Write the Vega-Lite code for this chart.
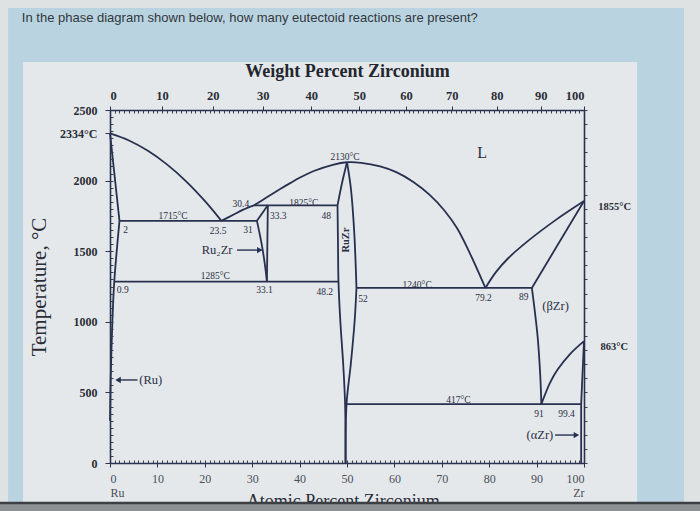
{
  "$schema": "https://vega.github.io/schema/vega-lite/v6.json",
  "width": 474,
  "height": 353,
  "autosize": {"type": "none"},
  "padding": {"left": 110, "top": 110, "right": 116, "bottom": 48},
  "background": "#dfe2e2",
  "config": {"view": {"stroke": null}, "font": "Liberation Serif"},
  "resolve": {"axis": {"x": "independent", "y": "independent"}},
  "datasets": {
    "frame": [
      {"part": "screen", "x": -21.5, "x2": 121.1, "T": 3222, "T2": -283},
      {"part": "panel", "x": -18.35, "x2": 111.2, "T": 2840, "T2": -283},
      {"part": "band", "x": -30, "x2": 130, "T": -283, "T2": -450}
    ],
    "lines": [
      {"s": "liqRu", "i": 1, "x": 0, "T": 2334}, {"s": "liqRu", "i": 2, "x": 4, "T": 2284}, {"s": "liqRu", "i": 3, "x": 8, "T": 2211}, {"s": "liqRu", "i": 4, "x": 12, "T": 2115}, {"s": "liqRu", "i": 5, "x": 16, "T": 1997}, {"s": "liqRu", "i": 6, "x": 20, "T": 1856}, {"s": "liqRu", "i": 7, "x": 23.5, "T": 1715},
      {"s": "solRu", "i": 1, "x": 0, "T": 2334}, {"s": "solRu", "i": 2, "x": 2, "T": 1715},
      {"s": "solvRu", "i": 1, "x": 2, "T": 1715}, {"s": "solvRu", "i": 2, "x": 0.9, "T": 1285}, {"s": "solvRu", "i": 3, "x": 0.5, "T": 1000}, {"s": "solvRu", "i": 4, "x": 0.15, "T": 600}, {"s": "solvRu", "i": 5, "x": 0, "T": 300},
      {"s": "eut1715", "i": 1, "x": 2, "T": 1715}, {"s": "eut1715", "i": 2, "x": 31, "T": 1715},
      {"s": "liqA", "i": 1, "x": 23.5, "T": 1715}, {"s": "liqA", "i": 2, "x": 26, "T": 1758}, {"s": "liqA", "i": 3, "x": 28, "T": 1793}, {"s": "liqA", "i": 4, "x": 30.4, "T": 1825},
      {"s": "liqB", "i": 1, "x": 30.4, "T": 1825}, {"s": "liqB", "i": 2, "x": 33, "T": 1880}, {"s": "liqB", "i": 3, "x": 35.9, "T": 1940}, {"s": "liqB", "i": 4, "x": 38, "T": 1982}, {"s": "liqB", "i": 5, "x": 40.1, "T": 2022}, {"s": "liqB", "i": 6, "x": 43, "T": 2068}, {"s": "liqB", "i": 7, "x": 47, "T": 2112}, {"s": "liqB", "i": 8, "x": 50, "T": 2130}, {"s": "liqB", "i": 9, "x": 53, "T": 2126}, {"s": "liqB", "i": 10, "x": 57, "T": 2100}, {"s": "liqB", "i": 11, "x": 60.5, "T": 2058}, {"s": "liqB", "i": 12, "x": 64, "T": 1990}, {"s": "liqB", "i": 13, "x": 67.5, "T": 1897}, {"s": "liqB", "i": 14, "x": 70.5, "T": 1790}, {"s": "liqB", "i": 15, "x": 73.2, "T": 1664}, {"s": "liqB", "i": 16, "x": 76, "T": 1480}, {"s": "liqB", "i": 17, "x": 79.2, "T": 1240},
      {"s": "per1825", "i": 1, "x": 30.4, "T": 1825}, {"s": "per1825", "i": 2, "x": 48, "T": 1825},
      {"s": "r2zTop", "i": 1, "x": 33.3, "T": 1825}, {"s": "r2zTop", "i": 2, "x": 31, "T": 1715},
      {"s": "r2zLeft", "i": 1, "x": 31, "T": 1715}, {"s": "r2zLeft", "i": 2, "x": 32, "T": 1550}, {"s": "r2zLeft", "i": 3, "x": 32.7, "T": 1400}, {"s": "r2zLeft", "i": 4, "x": 33.1, "T": 1285},
      {"s": "r2zRight", "i": 1, "x": 33.3, "T": 1825}, {"s": "r2zRight", "i": 2, "x": 33.1, "T": 1285},
      {"s": "eutd1285", "i": 1, "x": 0.9, "T": 1285}, {"s": "eutd1285", "i": 2, "x": 48.2, "T": 1285},
      {"s": "rzLtop", "i": 1, "x": 50, "T": 2130}, {"s": "rzLtop", "i": 2, "x": 49, "T": 1990}, {"s": "rzLtop", "i": 3, "x": 48, "T": 1825},
      {"s": "rzL", "i": 1, "x": 48, "T": 1825}, {"s": "rzL", "i": 2, "x": 48.1, "T": 1550}, {"s": "rzL", "i": 3, "x": 48.2, "T": 1285}, {"s": "rzL", "i": 4, "x": 48.6, "T": 1000}, {"s": "rzL", "i": 5, "x": 49.2, "T": 700}, {"s": "rzL", "i": 6, "x": 49.6, "T": 417}, {"s": "rzL", "i": 7, "x": 49.7, "T": 0},
      {"s": "rzRtop", "i": 1, "x": 50, "T": 2130}, {"s": "rzRtop", "i": 2, "x": 50.8, "T": 1950}, {"s": "rzRtop", "i": 3, "x": 51.5, "T": 1650}, {"s": "rzRtop", "i": 4, "x": 52, "T": 1240},
      {"s": "rzR", "i": 1, "x": 52, "T": 1240}, {"s": "rzR", "i": 2, "x": 51.6, "T": 1000}, {"s": "rzR", "i": 3, "x": 50.8, "T": 700}, {"s": "rzR", "i": 4, "x": 49.9, "T": 417}, {"s": "rzR", "i": 5, "x": 49.7, "T": 0},
      {"s": "eut1240", "i": 1, "x": 52, "T": 1240}, {"s": "eut1240", "i": 2, "x": 89, "T": 1240},
      {"s": "liqZr", "i": 1, "x": 79.2, "T": 1240}, {"s": "liqZr", "i": 2, "x": 81.5, "T": 1355}, {"s": "liqZr", "i": 3, "x": 84, "T": 1450}, {"s": "liqZr", "i": 4, "x": 88.2, "T": 1573}, {"s": "liqZr", "i": 5, "x": 94, "T": 1720}, {"s": "liqZr", "i": 6, "x": 100, "T": 1855},
      {"s": "solZr", "i": 1, "x": 89, "T": 1240}, {"s": "solZr", "i": 2, "x": 100, "T": 1855},
      {"s": "solvBZr", "i": 1, "x": 89, "T": 1240}, {"s": "solvBZr", "i": 2, "x": 90.2, "T": 900}, {"s": "solvBZr", "i": 3, "x": 90.8, "T": 600}, {"s": "solvBZr", "i": 4, "x": 91, "T": 417},
      {"s": "eutd417", "i": 1, "x": 49.8, "T": 417}, {"s": "eutd417", "i": 2, "x": 99.4, "T": 417},
      {"s": "transBA", "i": 1, "x": 91, "T": 417}, {"s": "transBA", "i": 2, "x": 92.8, "T": 566}, {"s": "transBA", "i": 3, "x": 94.4, "T": 660}, {"s": "transBA", "i": 4, "x": 97, "T": 770}, {"s": "transBA", "i": 5, "x": 100, "T": 863},
      {"s": "aZrTop", "i": 1, "x": 100, "T": 863}, {"s": "aZrTop", "i": 2, "x": 99.4, "T": 417},
      {"s": "aZr", "i": 1, "x": 99.4, "T": 417}, {"s": "aZr", "i": 2, "x": 99.4, "T": 0}
    ],
    "labels": [
      {"text": "2130°C", "x": 49.6, "T": 2170, "kind": "num"},
      {"text": "1715°C", "x": 13.3, "T": 1752, "kind": "num"},
      {"text": "2", "x": 3.3, "T": 1650, "kind": "num"},
      {"text": "23.5", "x": 22.8, "T": 1643, "kind": "num"},
      {"text": "31", "x": 29.1, "T": 1650, "kind": "num"},
      {"text": "30.4", "x": 27.6, "T": 1836, "kind": "num"},
      {"text": "1825°C", "x": 40.9, "T": 1843, "kind": "num"},
      {"text": "33.3", "x": 35.5, "T": 1752, "kind": "num"},
      {"text": "48", "x": 45.6, "T": 1752, "kind": "num"},
      {"text": "1285°C", "x": 22.2, "T": 1326, "kind": "num"},
      {"text": "0.9", "x": 2.7, "T": 1222, "kind": "num"},
      {"text": "33.1", "x": 32.6, "T": 1222, "kind": "num"},
      {"text": "48.2", "x": 45.3, "T": 1208, "kind": "num"},
      {"text": "52", "x": 53.4, "T": 1165, "kind": "num"},
      {"text": "1240°C", "x": 64.8, "T": 1262, "kind": "num"},
      {"text": "79.2", "x": 78.8, "T": 1168, "kind": "num"},
      {"text": "89", "x": 87.3, "T": 1175, "kind": "num"},
      {"text": "417°C", "x": 73.5, "T": 448, "kind": "num"},
      {"text": "91", "x": 90.5, "T": 350, "kind": "num"},
      {"text": "99.4", "x": 96.3, "T": 350, "kind": "num"},
      {"text": "1855°C", "x": 103, "T": 1812, "kind": "side"},
      {"text": "863°C", "x": 103.5, "T": 821, "kind": "side"},
      {"text": "L", "x": 78.5, "T": 2195, "kind": "big"},
      {"text": "(βZr)", "x": 94, "T": 1115, "kind": "phase"},
      {"text": "(Ru)", "x": 8.6, "T": 588, "kind": "phase"},
      {"text": "(αZr)", "x": 90.7, "T": 198, "kind": "phase"},
      {"text": "Ru₂Zr", "x": 22.6, "T": 1508, "kind": "phase"},
      {"text": "RuZr", "x": 49.8, "T": 1579, "kind": "rot"},
      {"text": "In the phase diagram shown below, how many eutectoid reactions are present?", "x": -18.6, "T": 3151, "kind": "question"},
      {"text": "Atomic Percent Zirconium", "x": 49.2, "T": -312, "kind": "xtitle"}
    ],
    "arrows": [
      {"name": "Ru", "x": 1.5, "x2": 5.8, "T": 588, "head": 1.7, "dir": "left"},
      {"name": "Ru2Zr", "x": 26.8, "x2": 32.0, "T": 1508, "head": 31.6, "dir": "right"},
      {"name": "aZr", "x": 93.9, "x2": 98.6, "T": 198, "head": 98.4, "dir": "right"}
    ]
  },
  "layer": [
    {
      "data": {"name": "frame"},
      "transform": [{"filter": "datum.part == 'screen'"}],
      "mark": {"type": "rect", "color": "#b9d4e0"},
      "encoding": {
        "x": {"field": "x", "type": "quantitative", "scale": {"domain": [0, 100], "nice": false, "zero": false},
              "axis": {"orient": "bottom", "tickCount": 100, "labels": false, "domain": false, "grid": false, "title": null, "tickSize": -3, "tickColor": "#3a4050", "zindex": 2}},
        "x2": {"field": "x2"},
        "y": {"field": "T", "type": "quantitative", "scale": {"domain": [0, 2500], "nice": false, "zero": false},
              "axis": {"orient": "left", "tickCount": 50, "labels": false, "domain": false, "grid": false, "title": null, "tickSize": -3, "tickColor": "#3a4050", "zindex": 2}},
        "y2": {"field": "T2"}
      }
    },
    {
      "data": {"name": "frame"},
      "transform": [{"filter": "datum.part == 'panel'"}],
      "mark": {"type": "rect", "color": "#e4e8ea"},
      "encoding": {
        "x": {"field": "x", "type": "quantitative", "scale": {"domain": [0, 100], "nice": false, "zero": false},
              "axis": {"orient": "top", "tickCount": 100, "labels": false, "domain": false, "grid": false, "title": null, "tickSize": -3, "tickColor": "#3a4050", "zindex": 2}},
        "x2": {"field": "x2"},
        "y": {"field": "T", "type": "quantitative", "scale": {"domain": [0, 2500], "nice": false, "zero": false},
              "axis": {"orient": "right", "tickCount": 25, "labels": false, "domain": true, "domainColor": "#2b3350", "domainWidth": 1.6, "grid": false, "title": null, "tickSize": 3, "tickColor": "#3a4050", "zindex": 2}},
        "y2": {"field": "T2"}
      }
    },
    {
      "data": {"name": "lines"},
      "mark": {"type": "line", "color": "#283050", "strokeWidth": 1.8, "interpolate": "catmull-rom"},
      "encoding": {
        "x": {"field": "x", "type": "quantitative", "scale": {"domain": [0, 100], "nice": false, "zero": false},
              "axis": {"orient": "bottom", "values": [0, 10, 20, 30, 40, 50, 60, 70, 80, 90, 100], "labelExpr": "datum.value == 0 ? ['0', 'Ru'] : datum.value == 100 ? ['100', 'Zr'] : datum.label",
                       "labelFont": "Liberation Serif", "labelFontSize": 12, "labelColor": "#4a4f5a", "labelPadding": 6, "labelLineHeight": 14,
                       "domain": true, "domainColor": "#2b3350", "domainWidth": 1.6, "tickSize": 4, "tickColor": "#2b3350", "grid": false, "title": null, "zindex": 3}},
        "y": {"field": "T", "type": "quantitative", "scale": {"domain": [0, 2500], "nice": false, "zero": false},
              "axis": {"orient": "left", "values": [0, 500, 1000, 1500, 2000, 2334, 2500], "format": "d", "labelExpr": "datum.value == 2334 ? '2334°C' : datum.label",
                       "labelFont": "Liberation Serif", "labelFontSize": 12, "labelFontWeight": "bold", "labelColor": "#2a2d35", "labelPadding": 8,
                       "domain": true, "domainColor": "#2b3350", "domainWidth": 1.6, "tickSize": 5, "tickColor": "#2b3350", "grid": false,
                       "title": "Temperature, °C", "titleFont": "Liberation Serif", "titleFontSize": 21, "titleFontWeight": "normal", "titleColor": "#2a2d35", "titlePadding": 10, "zindex": 3}},
        "detail": {"field": "s", "type": "nominal"},
        "order": {"field": "i", "type": "quantitative"}
      }
    },
    {
      "data": {"name": "labels"},
      "transform": [{"filter": "datum.kind == 'num'"}],
      "mark": {"type": "text", "font": "Liberation Serif", "fontSize": 9.5, "color": "#2a2f45", "align": "center", "baseline": "middle"},
      "encoding": {
        "x": {"field": "x", "type": "quantitative", "scale": {"domain": [0, 100], "nice": false, "zero": false},
              "axis": {"orient": "top", "values": [0, 10.96, 21.69, 32.2, 42.48, 52.56, 62.43, 72.11, 81.59, 90.89, 100],
                       "labelExpr": "'' + round(datum.value * 91.224 * 100 / (datum.value * 91.224 + (100 - datum.value) * 101.07))",
                       "labelFont": "Liberation Serif", "labelFontSize": 12.5, "labelFontWeight": "bold", "labelColor": "#2a2d35", "labelPadding": 4,
                       "domain": true, "domainColor": "#2b3350", "domainWidth": 1.6, "tickSize": 4, "tickColor": "#2b3350", "grid": false,
                       "title": "Weight Percent Zirconium", "titleFont": "Liberation Serif", "titleFontSize": 18, "titleFontWeight": "bold", "titleColor": "#23262e", "titlePadding": 9, "zindex": 3}},
        "y": {"field": "T", "type": "quantitative", "scale": {"domain": [0, 2500], "nice": false, "zero": false}, "axis": null},
        "text": {"field": "text"}
      }
    },
    {
      "data": {"name": "labels"},
      "transform": [{"filter": "datum.kind == 'side'"}],
      "mark": {"type": "text", "font": "Liberation Serif", "fontSize": 10.5, "fontWeight": "bold", "color": "#2a2d35", "align": "left", "baseline": "middle"},
      "encoding": {
        "x": {"field": "x", "type": "quantitative", "scale": {"domain": [0, 100], "nice": false, "zero": false}, "axis": null},
        "y": {"field": "T", "type": "quantitative", "scale": {"domain": [0, 2500], "nice": false, "zero": false}, "axis": null},
        "text": {"field": "text"}
      }
    },
    {
      "data": {"name": "labels"},
      "transform": [{"filter": "datum.kind == 'phase'"}],
      "mark": {"type": "text", "font": "Liberation Serif", "fontSize": 12.5, "color": "#2a2f45", "align": "center", "baseline": "middle"},
      "encoding": {
        "x": {"field": "x", "type": "quantitative", "scale": {"domain": [0, 100], "nice": false, "zero": false}, "axis": null},
        "y": {"field": "T", "type": "quantitative", "scale": {"domain": [0, 2500], "nice": false, "zero": false}, "axis": null},
        "text": {"field": "text"}
      }
    },
    {
      "data": {"name": "labels"},
      "transform": [{"filter": "datum.kind == 'big'"}],
      "mark": {"type": "text", "font": "Liberation Serif", "fontSize": 16, "color": "#2a2f45", "align": "center", "baseline": "middle"},
      "encoding": {
        "x": {"field": "x", "type": "quantitative", "scale": {"domain": [0, 100], "nice": false, "zero": false}, "axis": null},
        "y": {"field": "T", "type": "quantitative", "scale": {"domain": [0, 2500], "nice": false, "zero": false}, "axis": null},
        "text": {"field": "text"}
      }
    },
    {
      "data": {"name": "labels"},
      "transform": [{"filter": "datum.kind == 'rot'"}],
      "mark": {"type": "text", "font": "Liberation Serif", "fontSize": 10.5, "fontWeight": "bold", "color": "#2a2f45", "align": "center", "baseline": "middle", "angle": 270},
      "encoding": {
        "x": {"field": "x", "type": "quantitative", "scale": {"domain": [0, 100], "nice": false, "zero": false}, "axis": null},
        "y": {"field": "T", "type": "quantitative", "scale": {"domain": [0, 2500], "nice": false, "zero": false}, "axis": null},
        "text": {"field": "text"}
      }
    },
    {
      "data": {"name": "arrows"},
      "mark": {"type": "rule", "color": "#283050", "strokeWidth": 1.4},
      "encoding": {
        "x": {"field": "x", "type": "quantitative", "scale": {"domain": [0, 100], "nice": false, "zero": false}, "axis": null},
        "x2": {"field": "x2"},
        "y": {"field": "T", "type": "quantitative", "scale": {"domain": [0, 2500], "nice": false, "zero": false}, "axis": null}
      }
    },
    {
      "data": {"name": "arrows"},
      "transform": [{"filter": "datum.dir == 'right'"}],
      "mark": {"type": "point", "shape": "triangle-right", "filled": true, "color": "#283050", "size": 40, "opacity": 1},
      "encoding": {
        "x": {"field": "head", "type": "quantitative", "scale": {"domain": [0, 100], "nice": false, "zero": false}, "axis": null},
        "y": {"field": "T", "type": "quantitative", "scale": {"domain": [0, 2500], "nice": false, "zero": false}, "axis": null}
      }
    },
    {
      "data": {"name": "arrows"},
      "transform": [{"filter": "datum.dir == 'left'"}],
      "mark": {"type": "point", "shape": "triangle-left", "filled": true, "color": "#283050", "size": 40, "opacity": 1},
      "encoding": {
        "x": {"field": "head", "type": "quantitative", "scale": {"domain": [0, 100], "nice": false, "zero": false}, "axis": null},
        "y": {"field": "T", "type": "quantitative", "scale": {"domain": [0, 2500], "nice": false, "zero": false}, "axis": null}
      }
    },
    {
      "data": {"name": "labels"},
      "transform": [{"filter": "datum.kind == 'question'"}],
      "mark": {"type": "text", "font": "Liberation Sans", "fontSize": 13, "color": "#33373d", "align": "left", "baseline": "middle"},
      "encoding": {
        "x": {"field": "x", "type": "quantitative", "scale": {"domain": [0, 100], "nice": false, "zero": false}, "axis": null},
        "y": {"field": "T", "type": "quantitative", "scale": {"domain": [0, 2500], "nice": false, "zero": false}, "axis": null},
        "text": {"field": "text"}
      }
    },
    {
      "data": {"name": "labels"},
      "transform": [{"filter": "datum.kind == 'xtitle'"}],
      "mark": {"type": "text", "font": "Liberation Serif", "fontSize": 18, "color": "#2a2d35", "align": "center", "baseline": "alphabetic"},
      "encoding": {
        "x": {"field": "x", "type": "quantitative", "scale": {"domain": [0, 100], "nice": false, "zero": false}, "axis": null},
        "y": {"field": "T", "type": "quantitative", "scale": {"domain": [0, 2500], "nice": false, "zero": false}, "axis": null},
        "text": {"field": "text"}
      }
    },
    {
      "data": {"name": "frame"},
      "transform": [{"filter": "datum.part == 'band'"}],
      "mark": {"type": "rect", "color": "#8e9194"},
      "encoding": {
        "x": {"field": "x", "type": "quantitative", "scale": {"domain": [0, 100], "nice": false, "zero": false}, "axis": null},
        "x2": {"field": "x2"},
        "y": {"field": "T", "type": "quantitative", "scale": {"domain": [0, 2500], "nice": false, "zero": false}, "axis": null},
        "y2": {"field": "T2"}
      }
    },
    {
      "data": {"name": "frame"},
      "transform": [{"filter": "datum.part == 'band'"}],
      "mark": {"type": "rule", "color": "#3c3f44", "strokeWidth": 2.5},
      "encoding": {
        "x": {"field": "x", "type": "quantitative", "scale": {"domain": [0, 100], "nice": false, "zero": false}, "axis": null},
        "x2": {"field": "x2"},
        "y": {"field": "T", "type": "quantitative", "scale": {"domain": [0, 2500], "nice": false, "zero": false}, "axis": null}
      }
    }
  ]
}
